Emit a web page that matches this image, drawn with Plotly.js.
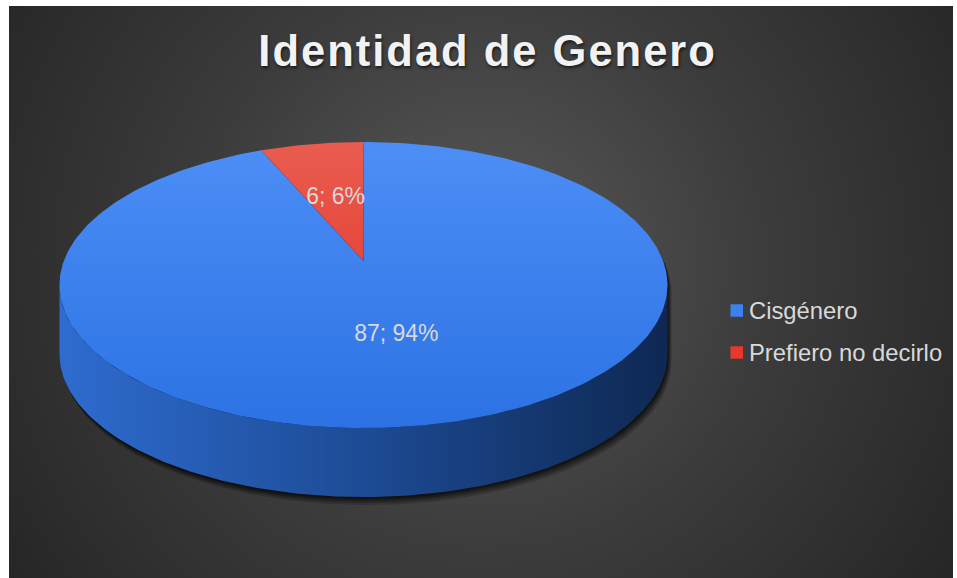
<!DOCTYPE html>
<html><head><meta charset="utf-8">
<script src="https://cdn.plot.ly/plotly-3.0.1.min.js"></script>
<style>
html,body{margin:0;padding:0;background:#ffffff;}
#chart{position:absolute;left:9px;top:6px;width:944px;height:572px;
background: radial-gradient(circle farthest-corner at 50% 45%, #595959 0%, #3c3c3c 50%, #262626 100%);}
.gtitle{letter-spacing:2px;}
</style></head><body><div id="chart"></div>
<script>
// ---- data ----
const categories = ['Cisgénero', 'Prefiero no decirlo'];
const values = [87, 6];
const chartTitle = 'Identidad de Genero';

// ---- style ----
const topColors = [['#4d8ef6', '#2c72e4'], ['#ea5c50', '#df2a1e']];
const legendColors = ['#3b82f0', '#e8382c'];
const sideScale = [[0, '#2e6cd0'], [0.5, '#1d4b95'], [1, '#0e2852']];
const FONT = 'Liberation Sans, Arial, sans-serif';

// projection geometry of the 3D pie (layout)
const K = -0.1678, CX = 363.5, A = 299.7, Y0 = 261, YA = 95.2, DEPTH = 69;
function proj(theta, r, dz) {
  const t = theta * Math.PI / 180;
  const u = r * Math.sin(t), v = -r * Math.cos(t);
  const d = 1 + K * v;
  return [CX + A * u / d, (YA * v + Y0) / d + (dz || 0)];
}
function arc(t0, t1, r, dz, step) {
  const pts = []; const n = Math.max(2, Math.ceil(Math.abs(t1 - t0) / (step || 1)));
  for (let i = 0; i <= n; i++) pts.push(proj(t0 + (t1 - t0) * i / n, r, dz));
  return pts;
}
const total = values.reduce((a, b) => a + b, 0);
const traces = [];
const thetaS = Math.acos(K) * 180 / Math.PI;

// shadow
const sil = arc(-thetaS, thetaS, 1, 0).concat(arc(thetaS, 360 - thetaS, 1, DEPTH));
[[4, 8, 0.18], [3, 6, 0.22], [2, 4, 0.28], [1, 2, 0.35]].forEach(([dx, dy, op]) => {
  traces.push({type: 'scatter', mode: 'lines', x: sil.map(p => p[0] + dx), y: sil.map(p => p[1] + dy),
    fill: 'toself', fillcolor: 'rgba(0,0,0,' + op + ')', line: {width: 0}, hoverinfo: 'skip', showlegend: false});
});

// side of the cylinder
const side = arc(thetaS, 360 - thetaS, 1, 0).concat(arc(360 - thetaS, thetaS, 1, DEPTH));
traces.push({type: 'scatter', mode: 'lines', x: side.map(p => p[0]), y: side.map(p => p[1]),
  fill: 'toself', line: {width: 0}, hoverinfo: 'skip', showlegend: false,
  fillgradient: {type: 'horizontal', start: CX - A * 1.015, stop: CX + A * 1.015, colorscale: sideScale}});

// top slices
let acc = 0;
const lx = [], ly = [], lt = [];
values.forEach((val, i) => {
  const t0 = acc / total * 360, t1 = (acc + val) / total * 360;
  acc += val;
  const pts = [proj(0, 0, 0)].concat(arc(t0, t1, 1, 0)).concat([proj(0, 0, 0)]);
  traces.push({type: 'scatter', mode: 'lines', x: pts.map(p => p[0]), y: pts.map(p => p[1]),
    fill: 'toself', line: {width: 0}, hoverinfo: 'skip', showlegend: false, name: categories[i],
    fillgradient: {type: 'vertical', start: proj(0, 1, 0)[1], stop: proj(180, 1, 0)[1],
      colorscale: [[0, topColors[i][0]], [1, topColors[i][1]]]}});
  const m = proj((t0 + t1) / 2, 0.5, 0);
  lx.push(m[0]); ly.push(m[1]);
  lt.push(val + '; ' + Math.round(val / total * 100) + '%');
});
traces.push({type: 'scatter', mode: 'text', x: lx, y: ly, text: lt, textposition: 'middle center',
  textfont: {family: FONT, size: 23, color: '#d9d9d9'}, hoverinfo: 'skip', showlegend: false});

// legend (custom)
const LEG_X = 730.5, LEG_Y = 310.5, LEG_DY = 42, SQ = 12.5;
const shapes = categories.map((c, i) => ({type: 'rect', xref: 'x', yref: 'y',
  x0: LEG_X, x1: LEG_X + SQ, y0: LEG_Y + i * LEG_DY - SQ / 2, y1: LEG_Y + i * LEG_DY + SQ / 2,
  fillcolor: legendColors[i], line: {width: 0}}));
const annotations = categories.map((c, i) => ({xref: 'x', yref: 'y', x: LEG_X + SQ + 3.5, y: LEG_Y + i * LEG_DY,
  text: c, showarrow: false, xanchor: 'left', yanchor: 'middle',
  font: {family: FONT, size: 23.8, color: '#d9d9d9'}}));

const layout = {
  width: 944, height: 572,
  margin: {l: 0, r: 0, t: 0, b: 0, pad: 0},
  paper_bgcolor: 'rgba(0,0,0,0)', plot_bgcolor: 'rgba(0,0,0,0)',
  xaxis: {range: [9, 953], visible: false, fixedrange: true},
  yaxis: {range: [578, 6], visible: false, fixedrange: true},
  title: {text: chartTitle, x: 0.507, xanchor: 'center', xref: 'paper', yref: 'container', y: 0.921, yanchor: 'middle',
    font: {family: FONT, size: 43.5, color: '#f2f2f2', weight: 'bold', shadow: '1px 2px 3px rgba(0,0,0,0.6)'}},
  shapes: shapes, annotations: annotations, showlegend: false, hovermode: false
};
Plotly.newPlot('chart', traces, layout, {displayModeBar: false, staticPlot: true});
</script></body></html>
